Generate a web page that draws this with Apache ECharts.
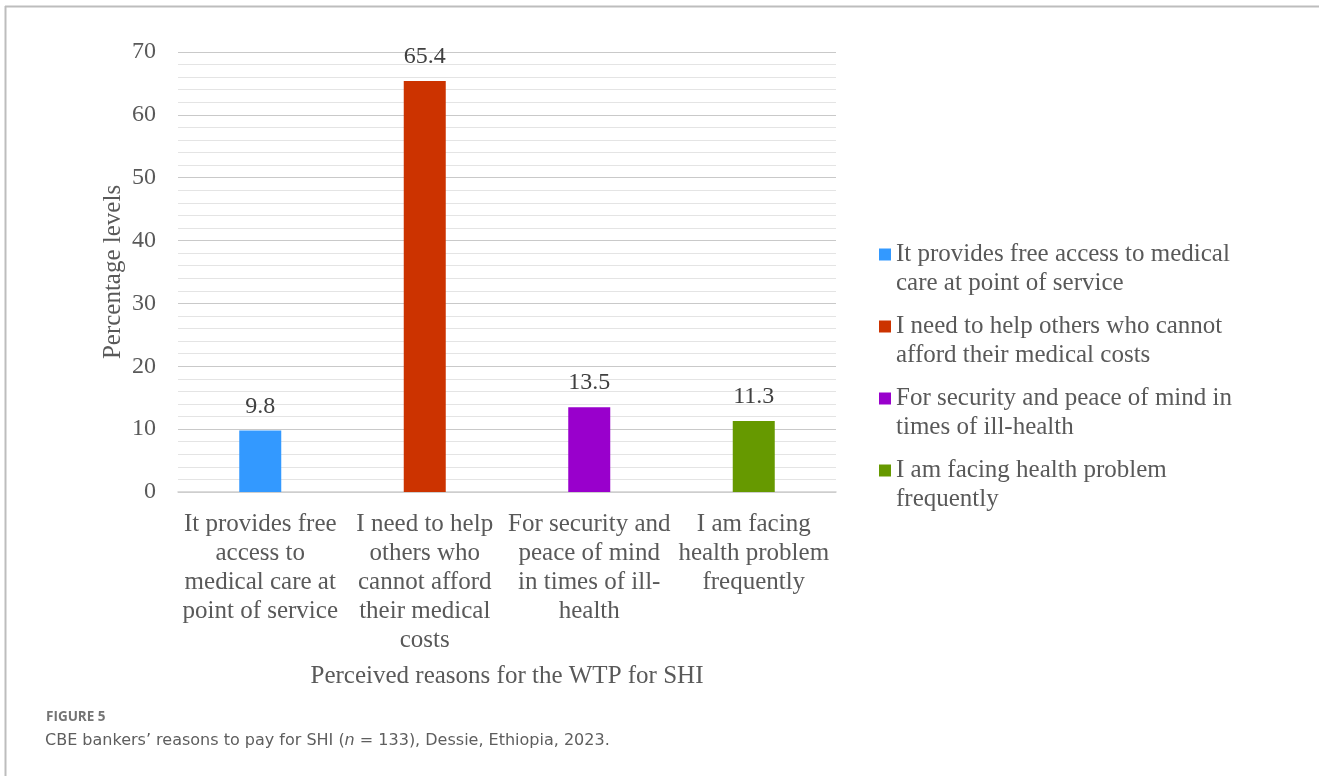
<!DOCTYPE html>
<html>
<head>
<meta charset="utf-8">
<script src="https://cdn.jsdelivr.net/npm/echarts@6/dist/echarts.min.js"></script>
<style>
  html, body { margin: 0; padding: 0; background: #ffffff; }
  #chart { width: 1319px; height: 776px; }
</style>
</head>
<body>
<div id="chart"></div>
<script>
// Reasons given for willingness to pay for social health insurance (%)
const categories = [
  'It provides free access to medical care at point of service',
  'I need to help others who cannot afford their medical costs',
  'For security and peace of mind in times of ill-health',
  'I am facing health problem frequently'
];
const axisLabels = [
  'It provides free\naccess to\nmedical care at\npoint of service',
  'I need to help\nothers who\ncannot afford\ntheir medical\ncosts',
  'For security and\npeace of mind\nin times of ill-\nhealth',
  'I am facing\nhealth problem\nfrequently'
];
const legendLabels = [
  'It provides free access to medical\ncare at point of service',
  'I need to help others who cannot\nafford their medical costs',
  'For security and peace of mind in\ntimes of ill-health',
  'I am facing health problem\nfrequently'
];
const values = [9.8, 65.4, 13.5, 11.3];
const colors = ['#3399ff', '#cc3300', '#9900cc', '#669900'];
const yTicks = [0, 10, 20, 30, 40, 50, 60, 70];

const serif = 'Liberation Serif';
const textGrey = '#595959';

const chart = echarts.init(document.getElementById('chart'), null, { renderer: 'canvas' });

// one series per reason so each gets its own legend entry; stacking keeps every bar centred
const series = categories.map((name, i) => ({
  name: name,
  type: 'bar',
  stack: 'reasons',
  barWidth: 42,
  data: values.map((v, j) => (j === i ? v : null)),
  itemStyle: { color: colors[i] },
  label: {
    show: true,
    position: 'top',
    distance: 12,
    fontFamily: serif,
    fontSize: 24,
    color: '#404040'
  }
}));

chart.setOption({
  backgroundColor: '#ffffff',
  animation: false,
  title: [
    {
      text: 'FIGURE 5',
      left: 41,
      top: 705,
      textStyle: { fontFamily: 'Open Sans', fontSize: 13.5, fontWeight: 'bold', color: '#747474' }
    },
    {
      text: '{a|CBE bankers\u2019 reasons to pay for SHI (}{i|n}{a| = 133), Dessie, Ethiopia, 2023.}',
      left: 40,
      top: 728,
      textStyle: {
        fontWeight: 'normal',
        rich: {
          a: { fontFamily: 'DejaVu Sans', fontSize: 16, fontWeight: 'normal', color: '#5e5e5e' },
          i: { fontFamily: 'DejaVu Sans', fontSize: 16, fontWeight: 'normal', fontStyle: 'italic', color: '#5e5e5e' }
        }
      }
    }
  ],
  graphic: [
    { type: 'line', silent: true, shape: { x1: 5, y1: 6.5, x2: 1319, y2: 6.5 }, style: { stroke: '#bdbdbd', lineWidth: 2 } },
    { type: 'line', silent: true, shape: { x1: 5.5, y1: 6, x2: 5.5, y2: 776 }, style: { stroke: '#bdbdbd', lineWidth: 2 } }
  ],
  grid: { left: 178, right: 483, top: 52, bottom: 284, containLabel: false },
  legend: {
    orient: 'vertical',
    left: 879,
    top: 211,
    padding: 0,
    itemGap: -15,
    itemWidth: 12,
    itemHeight: 12,
    icon: 'rect',
    data: categories,
    // leading blank line keeps the swatch level with the first text line
    formatter: name => '\n' + legendLabels[categories.indexOf(name)],
    textStyle: {
      fontFamily: serif,
      fontSize: 25,
      lineHeight: 29,
      color: textGrey
    }
  },
  xAxis: {
    type: 'category',
    data: categories,
    axisTick: { show: false },
    axisLine: { lineStyle: { color: '#cfcfcf', width: 1.5 } },
    axisLabel: {
      interval: 0,
      margin: 18,
      fontFamily: serif,
      fontSize: 25,
      lineHeight: 29,
      color: textGrey,
      formatter: (v, i) => axisLabels[i]
    },
    name: 'Perceived reasons for the WTP for SHI',
    nameLocation: 'middle',
    nameGap: 172,
    nameTextStyle: { fontFamily: serif, fontSize: 25, color: textGrey }
  },
  yAxis: {
    type: 'value',
    min: yTicks[0],
    max: yTicks[yTicks.length - 1],
    interval: 10,
    axisLine: { show: false },
    axisTick: { show: false },
    axisLabel: { margin: 22, fontFamily: serif, fontSize: 24, color: textGrey },
    splitLine: { lineStyle: { color: '#c9c9c9', width: 1 } },
    minorTick: { show: false, splitNumber: 5 },
    minorSplitLine: { show: true, lineStyle: { color: '#e4e4e4', width: 1 } },
    name: 'Percentage levels',
    nameLocation: 'middle',
    nameGap: 52,
    nameTextStyle: { fontFamily: serif, fontSize: 25, color: textGrey }
  },
  series: series
});
</script>
</body>
</html>
